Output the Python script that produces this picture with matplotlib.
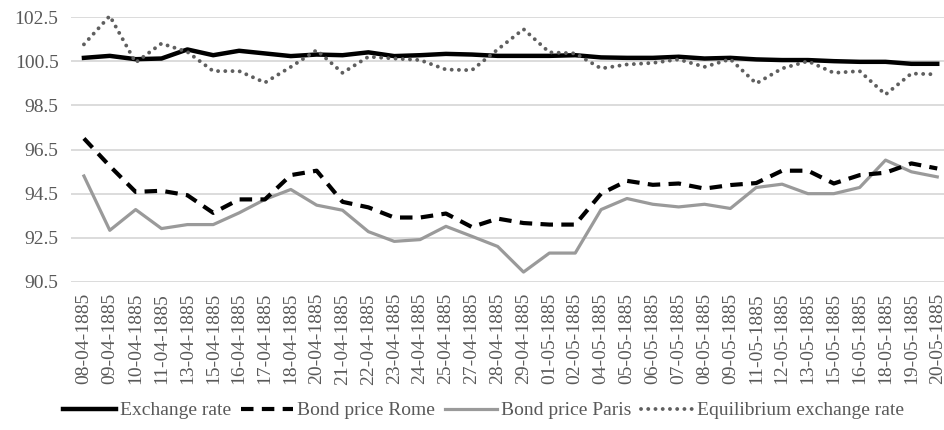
import matplotlib
matplotlib.use("Agg")
import matplotlib.pyplot as plt

dates = ["08-04-1885", "09-04-1885", "10-04-1885", "11-04-1885", "13-04-1885", "15-04-1885",
         "16-04-1885", "17-04-1885", "18-04-1885", "20-04-1885", "21-04-1885", "22-04-1885",
         "23-04-1885", "24-04-1885", "25-04-1885", "27-04-1885", "28-04-1885", "29-04-1885",
         "01-05-1885", "02-05-1885", "04-05-1885", "05-05-1885", "06-05-1885", "07-05-1885",
         "08-05-1885", "09-05-1885", "11-05-1885", "12-05-1885", "13-05-1885", "15-05-1885",
         "16-05-1885", "18-05-1885", "19-05-1885", "20-05-1885"]

exchange_rate = [100.65, 100.74, 100.59, 100.62, 101.03, 100.77, 100.97, 100.85, 100.73, 100.80,
                 100.77, 100.90, 100.73, 100.77, 100.83, 100.80, 100.74, 100.74, 100.74, 100.77,
                 100.67, 100.65, 100.65, 100.70, 100.62, 100.65, 100.58, 100.55, 100.55, 100.50,
                 100.47, 100.47, 100.38, 100.38]

bond_rome = [97.0, 95.75, 94.58, 94.63, 94.43, 93.63, 94.24, 94.24, 95.34, 95.54,
             94.13, 93.88, 93.42, 93.42, 93.60, 92.99, 93.37, 93.17, 93.10, 93.10,
             94.50, 95.08, 94.90, 94.96, 94.73, 94.89, 94.98, 95.54, 95.54, 94.96,
             95.34, 95.45, 95.87, 95.64]

bond_paris = [95.30, 92.84, 93.78, 92.92, 93.10, 93.10, 93.63, 94.24, 94.69, 93.98,
              93.75, 92.78, 92.34, 92.42, 93.02, 92.57, 92.11, 90.95, 91.81, 91.81,
              93.78, 94.28, 94.02, 93.90, 94.02, 93.83, 94.78, 94.93, 94.50, 94.50,
              94.78, 96.02, 95.49, 95.26]

equilibrium = [101.26, 102.55, 100.44, 101.30, 100.92, 100.05, 100.05, 99.53, 100.24, 101.00,
               99.97, 100.70, 100.62, 100.55, 100.12, 100.09, 101.03, 101.95, 100.90, 100.85,
               100.17, 100.35, 100.42, 100.58, 100.24, 100.59, 99.49, 100.17, 100.50, 99.97,
               100.05, 98.99, 99.94, 99.90]

y_ticks = [90.5, 92.5, 94.5, 96.5, 98.5, 100.5, 102.5]

plt.rcParams['font.family'] = ['Liberation Serif', 'DejaVu Serif']
text_color = '#595959'

fig = plt.figure(figsize=(9.45, 4.30), dpi=100)
ax = fig.add_axes([71 / 945, (430 - 282) / 430, (945 - 71) / 945, (282 - 17) / 430])

x = list(range(len(dates)))

ax.plot(x, exchange_rate, color='black', lw=3.2, solid_joinstyle='round',
        label='Exchange rate', clip_on=False, zorder=4)
ax.plot(x, bond_rome, color='black', lw=3.0, linestyle=(0, (3, 2)),
        label='Bond price Rome', clip_on=False, zorder=3)
ax.plot(x, bond_paris, color='#9a9a9a', lw=2.3, solid_joinstyle='round',
        label='Bond price Paris', clip_on=False, zorder=2)
ax.plot(x, equilibrium, color='#5f5f5f', lw=2.8, linestyle=(0, (0.01, 1.85)),
        dash_capstyle='round', label='Equilibrium exchange rate', clip_on=False, zorder=5)

ax.set_xlim(-0.5, 33.3)
ax.set_ylim(90.5, 102.5)
ax.set_yticks(y_ticks)
ax.set_yticklabels([f"{v:.1f}" for v in y_ticks])
ax.set_xticks(x)
ax.set_xticklabels(dates, rotation=90)
ax.tick_params(axis='both', length=0, labelsize=14, labelcolor=text_color)
ax.tick_params(axis='x', pad=8)
ax.tick_params(axis='y', pad=9)
ax.grid(axis='y', color='#d9d9d9', lw=1.3)
ax.set_axisbelow(True)
for s in ax.spines.values():
    s.set_visible(False)

leg = fig.legend(loc='center', bbox_to_anchor=(0.512, 0.045), ncol=4, frameon=False,
                 fontsize=14, handlelength=2.7, handletextpad=0.2, columnspacing=0.5,
                 labelcolor=text_color)

fig.savefig('out.png', dpi=100)
